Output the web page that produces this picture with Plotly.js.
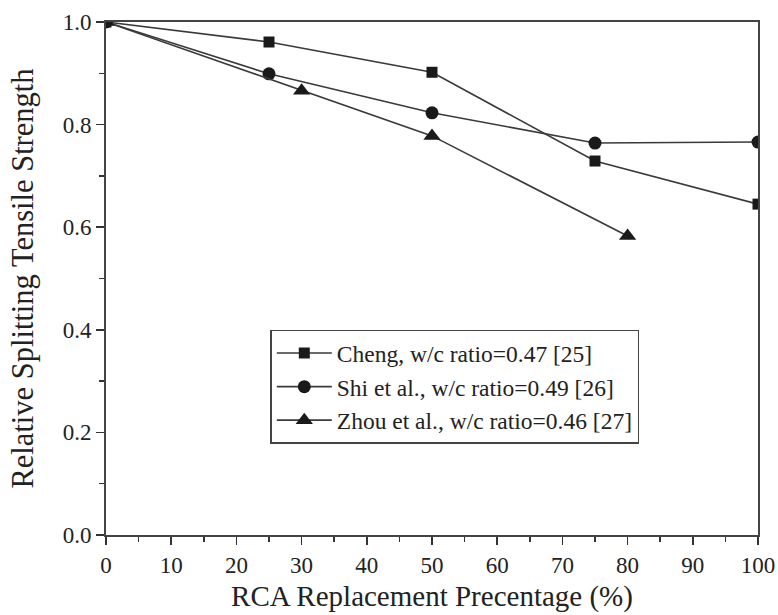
<!DOCTYPE html>
<html>
<head>
<meta charset="utf-8">
<script src="https://cdn.plot.ly/plotly-3.0.1.min.js"></script>
<style>html,body{margin:0;padding:0;background:#fff;}#chart{width:778px;height:615px;}</style>
</head>
<body>
<div id="chart"></div>
<script>
var chengX = [0, 25, 50, 75, 100];
var chengY = [1.0, 0.961, 0.902, 0.729, 0.645];
var shiX = [0, 25, 50, 75, 100];
var shiY = [1.0, 0.899, 0.823, 0.764, 0.766];
var zhouX = [0, 30, 50, 80];
var zhouY = [1.0, 0.866, 0.778, 0.583];
var seriesNames = ["Cheng, w/c ratio=0.47 [25]", "Shi et al., w/c ratio=0.49 [26]", "Zhou et al., w/c ratio=0.46 [27]"];

var FONT = 'Liberation Serif';
var lineCol = '#3a3a3a';
var mk = '#1a1a1a';
var traces = [
  {x: chengX, y: chengY, name: seriesNames[0], mode: 'lines+markers', line: {color: lineCol, width: 1.6}, marker: {symbol: 'square', size: 11, color: mk}},
  {x: shiX, y: shiY, name: seriesNames[1], mode: 'lines+markers', line: {color: lineCol, width: 1.6}, marker: {symbol: 'circle', size: 13, color: mk}},
  {x: zhouX, y: zhouY, name: seriesNames[2], mode: 'lines+markers', line: {color: lineCol, width: 1.6}, marker: {symbol: 'triangle-up', size: 15, color: mk}}
];

var layout = {
  width: 778, height: 615,
  margin: {l: 106, r: 20, t: 22, b: 80},
  paper_bgcolor: '#fff', plot_bgcolor: '#fff',
  font: {family: FONT, color: '#222', size: 23},
  showlegend: true,
  legend: {x: 0.252, y: 0.40, xanchor: 'left', yanchor: 'top', bordercolor: '#444', borderwidth: 1.5, bgcolor: '#fff', font: {family: FONT, size: 23.5, color: '#222'}, tracegroupgap: 0, itemwidth: 55},
  xaxis: {
    range: [0, 100], dtick: 10, tick0: 0, ticks: 'outside', ticklen: 8, tickwidth: 1.5, tickcolor: '#333',
    showline: true, linecolor: '#444', linewidth: 2, mirror: true, showgrid: false, zeroline: false,
    minor: {dtick: 5, ticks: 'outside', ticklen: 5, tickwidth: 1.5, tickcolor: '#333', showgrid: false},
    tickfont: {family: FONT, size: 23, color: '#222'},
    title: {text: 'RCA Replacement Precentage (%)', font: {family: FONT, size: 29, color: '#222'}, standoff: 9}
  },
  yaxis: {
    range: [0, 1.0], dtick: 0.2, tick0: 0, tickformat: '.1f', ticks: 'outside', ticklen: 8, tickwidth: 1.5, tickcolor: '#333',
    showline: true, linecolor: '#444', linewidth: 2, mirror: true, showgrid: false, zeroline: false,
    minor: {dtick: 0.1, ticks: 'outside', ticklen: 5, tickwidth: 1.5, tickcolor: '#333', showgrid: false},
    tickfont: {family: FONT, size: 23, color: '#222'},
    title: {text: 'Relative Splitting Tensile Strength', font: {family: FONT, size: 30.5, color: '#222'}, standoff: 20}
  }
};

Plotly.newPlot('chart', traces, layout, {displayModeBar: false, staticPlot: true});
</script>
</body>
</html>
